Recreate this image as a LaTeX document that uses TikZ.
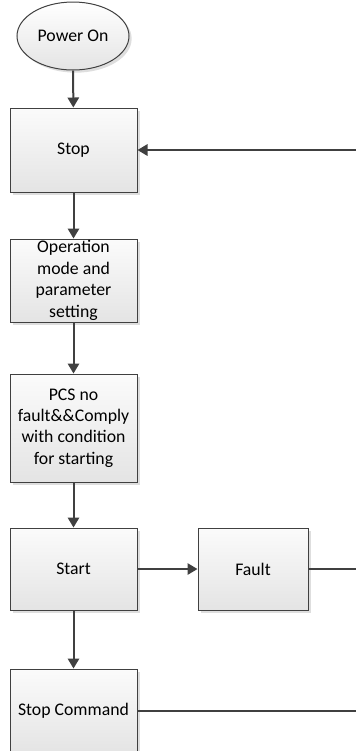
\documentclass[tikz,border=0pt]{standalone}
\usepackage{fontspec}
\setmainfont{Carlito}
\usetikzlibrary{shapes.geometric, arrows.meta, shadows}
\definecolor{linegray}{HTML}{404040}
\definecolor{boxtop}{HTML}{FBFBFB}
\definecolor{boxbottom}{HTML}{E4E4E4}
\tikzstyle{arrow} = [linegray, line width=1.5pt, -{Triangle[length=7.5pt,width=8.5pt]}]
\tikzstyle{line} = [linegray, line width=1.5pt]
\tikzstyle{process} = [rectangle, draw=linegray, line width=0.75pt, top color=boxtop, bottom color=boxbottom, drop shadow={shadow xshift=2.5pt, shadow yshift=-2.5pt, fill=black!13, opacity=1}, minimum width=95.25pt, inner sep=0pt, align=center, font=\fontsize{13.3}{16.1}\selectfont]
\tikzstyle{startstop} = [ellipse, draw=linegray, line width=0.75pt, top color=white, bottom color=boxbottom, drop shadow={shadow xshift=2pt, shadow yshift=-2pt, fill=black!13, opacity=1}, minimum width=84pt, minimum height=51pt, inner sep=0pt, font=\fontsize{13.3}{16.1}\selectfont]

\begin{document}
\begin{tikzpicture}[x=0.75pt, y=-0.75pt]

        \useasboundingbox (0,0) rectangle (356,751);

        % Power on
        \node at (73,36) [startstop] (power) {Power On};

        % Main column
        \node at (73.5,150) [process, minimum height=63pt] (stop) {Stop};
        \node at (73.5,280.5) [process, minimum height=62.25pt] (mode) {Operation\\mode and\\parameter\\setting};
        \node at (73.5,428) [process, minimum height=81pt] (pcs) {PCS no\\fault\&\&Comply\\with condition\\for starting};
        \node at (73.5,569) [process, minimum height=61.5pt] (start) {Start};
        \node at (73.5,711) [process, minimum height=63pt] (stopcmd) {Stop Command};

        % Fault branch
        \node at (253,569) [process, minimum width=82.5pt, minimum height=61.5pt] (fault) {Fault};

        % Return lines (right edge)
        \coordinate (edge1) at (356,150);
        \coordinate (edge2) at (356,569);
        \coordinate (edge3) at (356,711);

        % Connections
        \draw [arrow] (power) -- (stop);
        \draw [arrow] (stop) -- (mode);
        \draw [arrow] (mode) -- (pcs);
        \draw [arrow] (pcs) -- (start);
        \draw [arrow] (start) -- (stopcmd);
        \draw [arrow] (start) -- (fault);
        \draw [arrow] (edge1) -- (stop);
        \draw [line] (fault) -- (edge2);
        \draw [line] (stopcmd) -- (edge3);

\end{tikzpicture}
\end{document}
